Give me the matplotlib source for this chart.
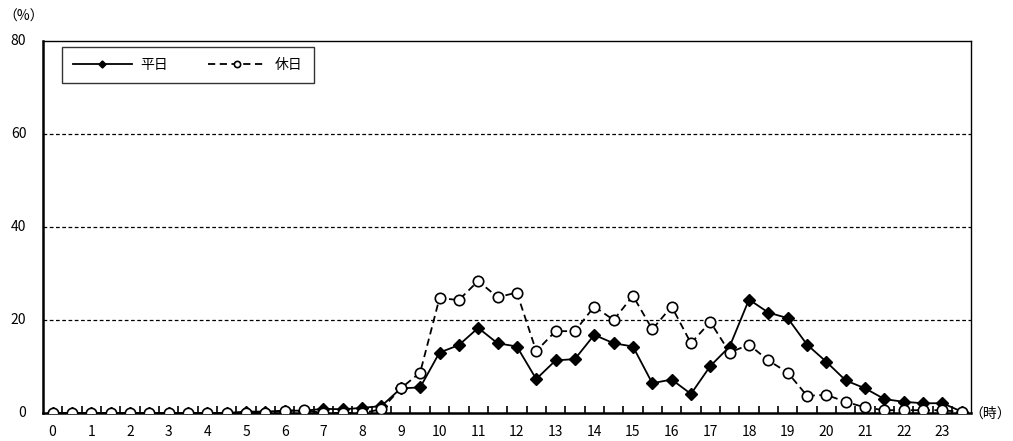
import numpy as np
import matplotlib
matplotlib.use("Agg")
import matplotlib.pyplot as plt

plt.rcParams['font.family'] = ['Noto Sans CJK JP', 'DejaVu Sans']

# half-hour steps 0:00 .. 23:30
hours = [h / 2 for h in range(48)]
hourLabels = [str(h) for h in range(24)]

weekday = [0, 0, 0, 0, 0, 0, 0, 0, 0, 0,
           0.3, 0.3, 0.5, 0.5, 0.9, 0.8, 1.1, 1.5, 5.3, 5.5,
           13.0, 14.6, 18.3, 15.0, 14.3, 7.3, 11.3, 11.6, 16.8, 15.0,
           14.3, 6.4, 7.2, 4.1, 10.1, 14.3, 24.4, 21.6, 20.4, 14.7,
           11.0, 7.0, 5.3, 3.0, 2.4, 2.1, 2.1, 0.3]

holiday = [0, 0, 0, 0, 0, 0, 0, 0, 0, 0,
           0, 0, 0.5, 0.6, 0, 0, 0, 0.8, 5.3, 8.7,
           24.7, 24.3, 28.4, 24.9, 25.9, 13.3, 17.6, 17.6, 22.9, 20.0,
           25.2, 18.0, 22.9, 15.0, 19.6, 13.0, 14.7, 11.3, 8.7, 3.7,
           3.9, 2.4, 1.2, 0.6, 0.6, 0.6, 0.6, 0.2]

fig = plt.figure(figsize=(10.13, 4.41), dpi=100)
ax = fig.add_axes([0.0424, 0.0635, 0.9166, 0.8435])

ax.plot(hours, weekday, color='black', linewidth=1.3, marker='D',
        markersize=6, markerfacecolor='black', label='平日', zorder=3)
ax.plot(hours, holiday, color='black', linewidth=1.3, linestyle=(0, (4, 2.5)),
        marker='o', markersize=7.5, markerfacecolor='white',
        markeredgecolor='black', markeredgewidth=1.2, label='休日', zorder=4)

ax.set_xlim(-0.25, 23.75)
ax.set_ylim(0, 80)

# dashed gridlines
for v in [20, 40, 60]:
    ax.axhline(v, color='black', linewidth=0.9, linestyle=(0, (3, 2)), zorder=1)

ax.set_yticks([0, 20, 40, 60, 80])
ax.tick_params(axis='y', length=0, pad=12, labelsize=10)
for lbl in ax.get_yticklabels():
    lbl.set_verticalalignment('center')

ax.set_xticks(range(24))
ax.set_xticklabels(hourLabels)
ax.set_xticks(np.arange(0.25, 23.75, 0.5), minor=True)
ax.tick_params(axis='x', which='major', length=0, pad=9, labelsize=10)
ax.tick_params(axis='x', which='minor', direction='in', length=5, width=1.2)

for side in ['left', 'bottom']:
    ax.spines[side].set_linewidth(1.8)
for side in ['top', 'right']:
    ax.spines[side].set_linewidth(1.0)

fig.text(0.003, 0.962, '（%）', fontsize=10, ha='left', va='center')
fig.text(0.998, 0.063, '（時）', fontsize=10, ha='right', va='center')

leg = ax.legend(loc='upper left', bbox_to_anchor=(0.0207, 0.985), ncol=2,
                frameon=True, fancybox=False, edgecolor='black',
                fontsize=10, handlelength=4.2, handletextpad=0.6,
                columnspacing=2.9, borderpad=0.8, markerscale=0.6,
                borderaxespad=0)
leg.get_frame().set_linewidth(1.0)

fig.savefig('out.png', dpi=100)
